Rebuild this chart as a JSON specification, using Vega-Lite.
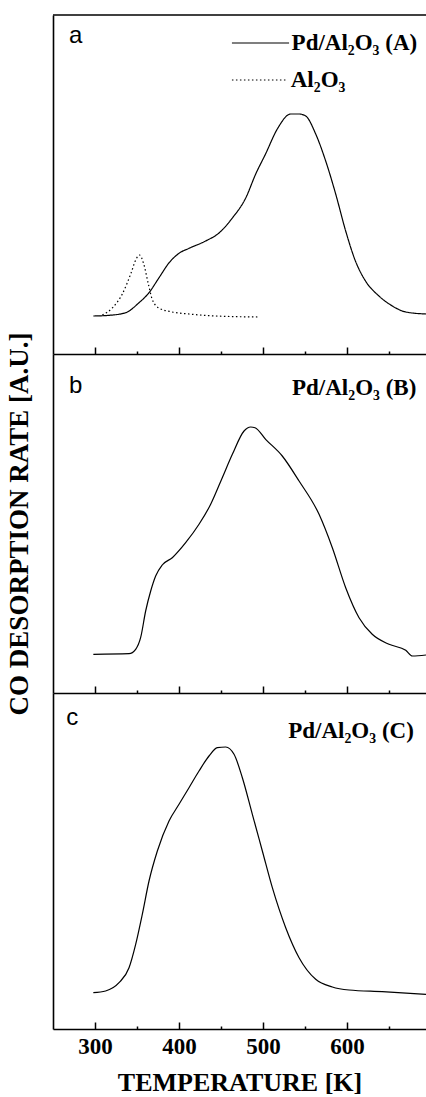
{
  "$schema": "https://vega.github.io/schema/vega-lite/v6.json",
  "background": "white",
  "padding": {"left": 5, "top": 14, "right": 0, "bottom": 0},
  "spacing": 0,
  "bounds": "flush",
  "config": {
    "view": {"stroke": null},
    "axis": {"domainColor": "black", "domainWidth": 1.6, "tickColor": "black", "tickWidth": 1.5, "grid": false},
    "line": {"color": "black", "strokeWidth": 1.2, "interpolate": "monotone"}
  },
  "datasets": {
    "curves": [
      {"panel": "a", "series": "Pd/Al2O3 (A)", "T": 298, "h": 38},
      {"panel": "a", "series": "Pd/Al2O3 (A)", "T": 317, "h": 38.7},
      {"panel": "a", "series": "Pd/Al2O3 (A)", "T": 336.5, "h": 41.3},
      {"panel": "a", "series": "Pd/Al2O3 (A)", "T": 352, "h": 51},
      {"panel": "a", "series": "Pd/Al2O3 (A)", "T": 364, "h": 61},
      {"panel": "a", "series": "Pd/Al2O3 (A)", "T": 376, "h": 76},
      {"panel": "a", "series": "Pd/Al2O3 (A)", "T": 388, "h": 91},
      {"panel": "a", "series": "Pd/Al2O3 (A)", "T": 400, "h": 100.7},
      {"panel": "a", "series": "Pd/Al2O3 (A)", "T": 412, "h": 105.7},
      {"panel": "a", "series": "Pd/Al2O3 (A)", "T": 431.7, "h": 113},
      {"panel": "a", "series": "Pd/Al2O3 (A)", "T": 447.6, "h": 121},
      {"panel": "a", "series": "Pd/Al2O3 (A)", "T": 463.5, "h": 136},
      {"panel": "a", "series": "Pd/Al2O3 (A)", "T": 479.4, "h": 156},
      {"panel": "a", "series": "Pd/Al2O3 (A)", "T": 491.3, "h": 180},
      {"panel": "a", "series": "Pd/Al2O3 (A)", "T": 503, "h": 200},
      {"panel": "a", "series": "Pd/Al2O3 (A)", "T": 517, "h": 225},
      {"panel": "a", "series": "Pd/Al2O3 (A)", "T": 533, "h": 240},
      {"panel": "a", "series": "Pd/Al2O3 (A)", "T": 543, "h": 240},
      {"panel": "a", "series": "Pd/Al2O3 (A)", "T": 550.8, "h": 238},
      {"panel": "a", "series": "Pd/Al2O3 (A)", "T": 562.7, "h": 220},
      {"panel": "a", "series": "Pd/Al2O3 (A)", "T": 574.6, "h": 193},
      {"panel": "a", "series": "Pd/Al2O3 (A)", "T": 586.5, "h": 160},
      {"panel": "a", "series": "Pd/Al2O3 (A)", "T": 598.4, "h": 123},
      {"panel": "a", "series": "Pd/Al2O3 (A)", "T": 610, "h": 93},
      {"panel": "a", "series": "Pd/Al2O3 (A)", "T": 622, "h": 73},
      {"panel": "a", "series": "Pd/Al2O3 (A)", "T": 638, "h": 58},
      {"panel": "a", "series": "Pd/Al2O3 (A)", "T": 654, "h": 48},
      {"panel": "a", "series": "Pd/Al2O3 (A)", "T": 670, "h": 42},
      {"panel": "a", "series": "Pd/Al2O3 (A)", "T": 694, "h": 40},
      {"panel": "a", "series": "Al2O3", "T": 308.7, "h": 39},
      {"panel": "a", "series": "Al2O3", "T": 320.6, "h": 46},
      {"panel": "a", "series": "Al2O3", "T": 332.5, "h": 60},
      {"panel": "a", "series": "Al2O3", "T": 342.5, "h": 80},
      {"panel": "a", "series": "Al2O3", "T": 349, "h": 95},
      {"panel": "a", "series": "Al2O3", "T": 353, "h": 99},
      {"panel": "a", "series": "Al2O3", "T": 358, "h": 90},
      {"panel": "a", "series": "Al2O3", "T": 363.5, "h": 70},
      {"panel": "a", "series": "Al2O3", "T": 368, "h": 55},
      {"panel": "a", "series": "Al2O3", "T": 376, "h": 46},
      {"panel": "a", "series": "Al2O3", "T": 392, "h": 42},
      {"panel": "a", "series": "Al2O3", "T": 412, "h": 40},
      {"panel": "a", "series": "Al2O3", "T": 443.6, "h": 38},
      {"panel": "a", "series": "Al2O3", "T": 495, "h": 37},
      {"panel": "b", "series": "Pd/Al2O3 (B)", "T": 298, "h": 38.7},
      {"panel": "b", "series": "Pd/Al2O3 (B)", "T": 340.5, "h": 39.3},
      {"panel": "b", "series": "Pd/Al2O3 (B)", "T": 348.4, "h": 43.7},
      {"panel": "b", "series": "Pd/Al2O3 (B)", "T": 354.3, "h": 55.3},
      {"panel": "b", "series": "Pd/Al2O3 (B)", "T": 360.3, "h": 82},
      {"panel": "b", "series": "Pd/Al2O3 (B)", "T": 366.3, "h": 102},
      {"panel": "b", "series": "Pd/Al2O3 (B)", "T": 372.2, "h": 117},
      {"panel": "b", "series": "Pd/Al2O3 (B)", "T": 380, "h": 128},
      {"panel": "b", "series": "Pd/Al2O3 (B)", "T": 392, "h": 135.3},
      {"panel": "b", "series": "Pd/Al2O3 (B)", "T": 407.9, "h": 150.3},
      {"panel": "b", "series": "Pd/Al2O3 (B)", "T": 423.8, "h": 168.7},
      {"panel": "b", "series": "Pd/Al2O3 (B)", "T": 437.7, "h": 188.7},
      {"panel": "b", "series": "Pd/Al2O3 (B)", "T": 451.5, "h": 215.3},
      {"panel": "b", "series": "Pd/Al2O3 (B)", "T": 463.5, "h": 238.7},
      {"panel": "b", "series": "Pd/Al2O3 (B)", "T": 477.4, "h": 262},
      {"panel": "b", "series": "Pd/Al2O3 (B)", "T": 485.3, "h": 266},
      {"panel": "b", "series": "Pd/Al2O3 (B)", "T": 490.5, "h": 265.3},
      {"panel": "b", "series": "Pd/Al2O3 (B)", "T": 503.1, "h": 253.7},
      {"panel": "b", "series": "Pd/Al2O3 (B)", "T": 522.9, "h": 237},
      {"panel": "b", "series": "Pd/Al2O3 (B)", "T": 542.9, "h": 212},
      {"panel": "b", "series": "Pd/Al2O3 (B)", "T": 566.7, "h": 178.7},
      {"panel": "b", "series": "Pd/Al2O3 (B)", "T": 582.5, "h": 145.3},
      {"panel": "b", "series": "Pd/Al2O3 (B)", "T": 598.4, "h": 105.3},
      {"panel": "b", "series": "Pd/Al2O3 (B)", "T": 614.3, "h": 75.3},
      {"panel": "b", "series": "Pd/Al2O3 (B)", "T": 630, "h": 58.7},
      {"panel": "b", "series": "Pd/Al2O3 (B)", "T": 650, "h": 48.7},
      {"panel": "b", "series": "Pd/Al2O3 (B)", "T": 669.9, "h": 42.7},
      {"panel": "b", "series": "Pd/Al2O3 (B)", "T": 677.8, "h": 37},
      {"panel": "b", "series": "Pd/Al2O3 (B)", "T": 694, "h": 38},
      {"panel": "c", "series": "Pd/Al2O3 (C)", "T": 298, "h": 36.3},
      {"panel": "c", "series": "Pd/Al2O3 (C)", "T": 312.6, "h": 38},
      {"panel": "c", "series": "Pd/Al2O3 (C)", "T": 328.6, "h": 46.3},
      {"panel": "c", "series": "Pd/Al2O3 (C)", "T": 340.5, "h": 61.3},
      {"panel": "c", "series": "Pd/Al2O3 (C)", "T": 348.4, "h": 84.7},
      {"panel": "c", "series": "Pd/Al2O3 (C)", "T": 356.3, "h": 114.7},
      {"panel": "c", "series": "Pd/Al2O3 (C)", "T": 364.3, "h": 148},
      {"panel": "c", "series": "Pd/Al2O3 (C)", "T": 374.2, "h": 178},
      {"panel": "c", "series": "Pd/Al2O3 (C)", "T": 388.1, "h": 208},
      {"panel": "c", "series": "Pd/Al2O3 (C)", "T": 400, "h": 224.7},
      {"panel": "c", "series": "Pd/Al2O3 (C)", "T": 411.9, "h": 241.3},
      {"panel": "c", "series": "Pd/Al2O3 (C)", "T": 423.8, "h": 258},
      {"panel": "c", "series": "Pd/Al2O3 (C)", "T": 435.7, "h": 273},
      {"panel": "c", "series": "Pd/Al2O3 (C)", "T": 445.6, "h": 281.3},
      {"panel": "c", "series": "Pd/Al2O3 (C)", "T": 455.6, "h": 282},
      {"panel": "c", "series": "Pd/Al2O3 (C)", "T": 465.5, "h": 274.7},
      {"panel": "c", "series": "Pd/Al2O3 (C)", "T": 475.4, "h": 251.3},
      {"panel": "c", "series": "Pd/Al2O3 (C)", "T": 487.3, "h": 214.7},
      {"panel": "c", "series": "Pd/Al2O3 (C)", "T": 499.2, "h": 178},
      {"panel": "c", "series": "Pd/Al2O3 (C)", "T": 511.1, "h": 141.3},
      {"panel": "c", "series": "Pd/Al2O3 (C)", "T": 527, "h": 101.3},
      {"panel": "c", "series": "Pd/Al2O3 (C)", "T": 542.9, "h": 71.3},
      {"panel": "c", "series": "Pd/Al2O3 (C)", "T": 562.7, "h": 49.7},
      {"panel": "c", "series": "Pd/Al2O3 (C)", "T": 582.5, "h": 42},
      {"panel": "c", "series": "Pd/Al2O3 (C)", "T": 602.4, "h": 39},
      {"panel": "c", "series": "Pd/Al2O3 (C)", "T": 642, "h": 37.3},
      {"panel": "c", "series": "Pd/Al2O3 (C)", "T": 694, "h": 34.7}
    ],
    "legendLines": [
      {"series": "Pd/Al2O3 (A)", "T": 463, "h": 311},
      {"series": "Pd/Al2O3 (A)", "T": 531, "h": 311},
      {"series": "Al2O3", "T": 463, "h": 274},
      {"series": "Al2O3", "T": 529, "h": 274}
    ],
    "frame": [{"edge": "top"}],
    "letters": [
      {"panel": "a", "text": "a", "T": 277, "h": 318},
      {"panel": "b", "text": "b", "T": 277, "h": 307},
      {"panel": "c", "text": "c", "T": 273, "h": 311}
    ],
    "names": [
      {"panel": "a", "text": "Pd/Al₂O₃ (A)", "T": 534, "h": 311},
      {"panel": "a", "text": "Al₂O₃", "T": 533, "h": 274},
      {"panel": "b", "text": "Pd/Al₂O₃ (B)", "T": 534.5, "h": 305},
      {"panel": "c", "text": "Pd/Al₂O₃ (C)", "T": 530, "h": 298}
    ]
  },
  "vconcat": [
    {
      "width": 373,
      "height": 339,
      "layer": [
        {
          "data": {"name": "curves"},
          "transform": [{"filter": "datum.panel === 'a'"}],
          "mark": {"type": "line"},
          "encoding": {
            "x": {"field": "T", "type": "quantitative", "scale": {"domain": [250, 694], "nice": false, "zero": false},
              "axis": {"orient": "bottom", "title": null, "labels": false, "values": [300, 350, 400, 450, 500, 550, 600, 650],
                "tickSize": {"condition": {"test": "datum.value % 100 === 0", "value": -7}, "value": -3}}},
            "y": {"field": "h", "type": "quantitative", "scale": {"domain": [0, 339], "nice": false},
              "axis": {"title": null, "labels": false, "ticks": false}},
            "strokeDash": {"field": "series", "type": "nominal", "scale": {"domain": ["Pd/Al2O3 (A)", "Al2O3"], "range": [[1, 0], [1.5, 2.5]]}, "legend": null}
          }
        },
        {
          "data": {"name": "legendLines"},
          "mark": {"type": "line"},
          "encoding": {
            "x": {"field": "T", "type": "quantitative"},
            "y": {"field": "h", "type": "quantitative"},
            "strokeDash": {"field": "series", "type": "nominal", "legend": null}
          }
        },
        {
          "data": {"name": "frame"},
          "mark": {"type": "rule", "color": "black", "strokeWidth": 1.6},
          "encoding": {"y": {"datum": 339, "type": "quantitative"}}
        },
        {
          "data": {"name": "letters"},
          "transform": [{"filter": "datum.panel === 'a'"}],
          "mark": {"type": "text", "font": "Liberation Sans", "fontSize": 24, "align": "center", "baseline": "middle"},
          "encoding": {"x": {"field": "T", "type": "quantitative"}, "y": {"field": "h", "type": "quantitative"}, "text": {"field": "text"}}
        },
        {
          "data": {"name": "names"},
          "transform": [{"filter": "datum.panel === 'a'"}],
          "mark": {"type": "text", "font": "Liberation Serif", "fontWeight": "bold", "fontSize": 23, "align": "left", "baseline": "middle"},
          "encoding": {"x": {"field": "T", "type": "quantitative"}, "y": {"field": "h", "type": "quantitative"}, "text": {"field": "text"}}
        }
      ]
    },
    {
      "width": 373,
      "height": 339,
      "layer": [
        {
          "data": {"name": "curves"},
          "transform": [{"filter": "datum.panel === 'b'"}],
          "mark": {"type": "line"},
          "encoding": {
            "x": {"field": "T", "type": "quantitative", "scale": {"domain": [250, 694], "nice": false, "zero": false},
              "axis": {"orient": "bottom", "title": null, "labels": false, "values": [300, 350, 400, 450, 500, 550, 600, 650],
                "tickSize": {"condition": {"test": "datum.value % 100 === 0", "value": -7}, "value": -3}}},
            "y": {"field": "h", "type": "quantitative", "scale": {"domain": [0, 339], "nice": false},
              "axis": {"title": "CO DESORPTION RATE [A.U.]", "labels": false, "ticks": false, "titleFont": "Liberation Serif", "titleFontWeight": "bold", "titleFontSize": 27, "titleColor": "black", "titlePadding": 20}}
          }
        },
        {
          "data": {"name": "letters"},
          "transform": [{"filter": "datum.panel === 'b'"}],
          "mark": {"type": "text", "font": "Liberation Sans", "fontSize": 24, "align": "center", "baseline": "middle"},
          "encoding": {"x": {"field": "T", "type": "quantitative"}, "y": {"field": "h", "type": "quantitative"}, "text": {"field": "text"}}
        },
        {
          "data": {"name": "names"},
          "transform": [{"filter": "datum.panel === 'b'"}],
          "mark": {"type": "text", "font": "Liberation Serif", "fontWeight": "bold", "fontSize": 23, "align": "left", "baseline": "middle"},
          "encoding": {"x": {"field": "T", "type": "quantitative"}, "y": {"field": "h", "type": "quantitative"}, "text": {"field": "text"}}
        }
      ]
    },
    {
      "width": 373,
      "height": 336,
      "layer": [
        {
          "data": {"name": "curves"},
          "transform": [{"filter": "datum.panel === 'c'"}],
          "mark": {"type": "line"},
          "encoding": {
            "x": {"field": "T", "type": "quantitative", "scale": {"domain": [250, 694], "nice": false, "zero": false},
              "axis": {"orient": "bottom", "title": "TEMPERATURE [K]", "values": [300, 350, 400, 450, 500, 550, 600, 650],
                "labelExpr": "datum.value % 100 === 0 ? datum.label : ''",
                "labelFont": "Liberation Serif", "labelFontWeight": "bold", "labelFontSize": 23, "labelColor": "black", "labelPadding": 13,
                "titleFont": "Liberation Serif", "titleFontWeight": "bold", "titleFontSize": 26, "titleColor": "black", "titlePadding": 11,
                "tickSize": {"condition": {"test": "datum.value % 100 === 0", "value": -7}, "value": -3}}},
            "y": {"field": "h", "type": "quantitative", "scale": {"domain": [0, 336], "nice": false},
              "axis": {"title": null, "labels": false, "ticks": false}}
          }
        },
        {
          "data": {"name": "letters"},
          "transform": [{"filter": "datum.panel === 'c'"}],
          "mark": {"type": "text", "font": "Liberation Sans", "fontSize": 24, "align": "center", "baseline": "middle"},
          "encoding": {"x": {"field": "T", "type": "quantitative"}, "y": {"field": "h", "type": "quantitative"}, "text": {"field": "text"}}
        },
        {
          "data": {"name": "names"},
          "transform": [{"filter": "datum.panel === 'c'"}],
          "mark": {"type": "text", "font": "Liberation Serif", "fontWeight": "bold", "fontSize": 23, "align": "left", "baseline": "middle"},
          "encoding": {"x": {"field": "T", "type": "quantitative"}, "y": {"field": "h", "type": "quantitative"}, "text": {"field": "text"}}
        }
      ]
    }
  ]
}
